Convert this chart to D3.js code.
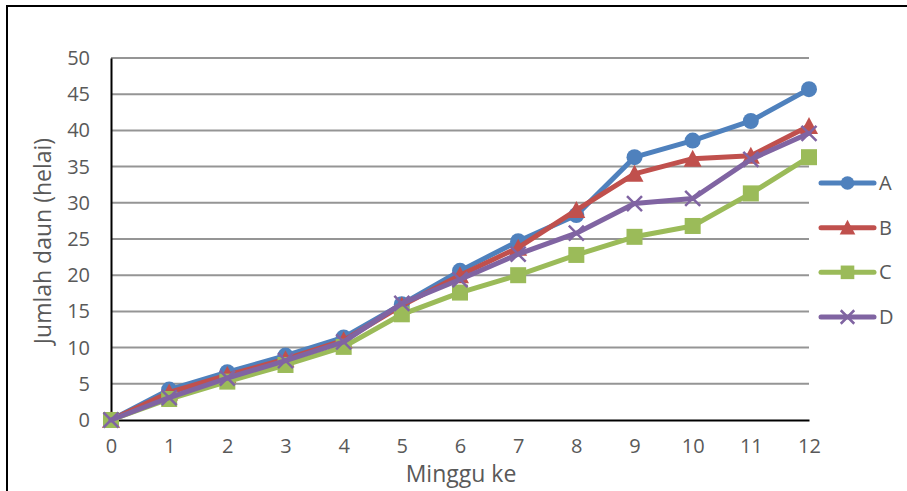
<!DOCTYPE html>
<html>
<head>
<meta charset="utf-8">
<script src="https://cdn.jsdelivr.net/npm/d3@7"></script>
<style>
  html, body { margin: 0; padding: 0; background: #fff; }
  svg { display: block; }
  text { font-family: "Open Sans", "Noto Sans", sans-serif; fill: #595959; }
</style>
</head>
<body>
<svg id="chart" width="907" height="491"></svg>
<script>
// Weekly leaf counts for four treatments
const weeks = [0, 1, 2, 3, 4, 5, 6, 7, 8, 9, 10, 11, 12];
const seriesA = [0, 4.2, 6.6, 8.9, 11.4, 16.0, 20.6, 24.7, 28.3, 36.3, 38.6, 41.3, 45.7];
const seriesB = [0, 3.8, 6.2, 8.4, 11.0, 15.8, 20.0, 23.8, 29.0, 34.0, 36.1, 36.5, 40.6];
const seriesC = [0, 2.9, 5.3, 7.6, 10.1, 14.6, 17.6, 20.0, 22.8, 25.3, 26.8, 31.3, 36.3];
const seriesD = [0, 3.1, 5.8, 8.2, 10.8, 16.1, 19.4, 22.9, 25.8, 29.9, 30.6, 36.0, 39.6];
const yTicks = [0, 5, 10, 15, 20, 25, 30, 35, 40, 45, 50];
const seriesNames = ["A", "B", "C", "D"];
const colors = ["#4F81BD", "#C0504D", "#9BBB59", "#8064A2"];
const markers = ["circle", "triangle", "square", "cross"];
const xTitle = "Minggu ke";
const yTitle = "Jumlah daun (helai)";

const series = [seriesA, seriesB, seriesC, seriesD].map((vals, i) => ({
  name: seriesNames[i], color: colors[i], marker: markers[i],
  points: vals.map((v, j) => ({ x: weeks[j], y: v }))
}));

const svg = d3.select("#chart");

// outer frame
svg.append("rect")
  .attr("x", 7).attr("y", 6).attr("width", 920).attr("height", 500)
  .attr("fill", "none").attr("stroke", "#000").attr("stroke-width", 2);

const x = d3.scaleLinear().domain([0, 12]).range([111, 809]);
const y = d3.scaleLinear().domain([0, 50]).range([420, 58]);

// horizontal gridlines
svg.append("g")
  .selectAll("line")
  .data(yTicks.filter(t => t > 0))
  .join("line")
  .attr("x1", x(0)).attr("x2", x(12))
  .attr("y1", d => y(d)).attr("y2", d => y(d))
  .attr("stroke", "#959595").attr("stroke-width", 2);

// y axis
const yAxis = svg.append("g")
  .attr("transform", `translate(${x(0)},0)`)
  .call(d3.axisLeft(y).tickValues(yTicks).tickSize(0).tickPadding(21));
yAxis.select(".domain").attr("stroke", "#000").attr("stroke-width", 2);
yAxis.selectAll("text").attr("font-size", 20).attr("fill", "#595959")
  .style("font-family", "'Open Sans', sans-serif");

// x axis
const xAxis = svg.append("g")
  .attr("transform", `translate(0,${y(0)})`)
  .call(d3.axisBottom(x).tickValues(weeks).tickSize(0).tickPadding(19).tickFormat(d3.format("d")));
xAxis.select(".domain").attr("stroke", "#000").attr("stroke-width", 2);
xAxis.selectAll("text").attr("font-size", 20).attr("fill", "#595959")
  .style("font-family", "'Open Sans', sans-serif");

// axis titles
svg.append("text")
  .attr("x", 461).attr("y", 482)
  .attr("text-anchor", "middle").attr("font-size", 23)
  .text(xTitle);
svg.append("text")
  .attr("transform", "translate(51,241) rotate(-90)")
  .attr("text-anchor", "middle").attr("font-size", 23)
  .text(yTitle);

// marker drawing
function drawMarker(g, type, color, cx, cy, scale) {
  const s = scale || 1;
  if (type === "circle") {
    g.append("circle").attr("cx", cx).attr("cy", cy).attr("r", 8 * s).attr("fill", color);
  } else if (type === "triangle") {
    const h = 8 * s;
    g.append("path")
      .attr("d", `M${cx},${cy - h - 1}L${cx + h + 1},${cy + h}L${cx - h - 1},${cy + h}Z`)
      .attr("fill", color);
  } else if (type === "square") {
    const h = 8 * s;
    g.append("rect").attr("x", cx - h).attr("y", cy - h)
      .attr("width", 2 * h).attr("height", 2 * h).attr("fill", color);
  } else {
    const h = 7.5 * s;
    g.append("path")
      .attr("d", `M${cx - h},${cy - h}L${cx + h},${cy + h}M${cx - h},${cy + h}L${cx + h},${cy - h}`)
      .attr("stroke", color).attr("stroke-width", 2.5).attr("fill", "none");
  }
}

const line = d3.line().x(d => x(d.x)).y(d => y(d.y));

series.forEach(s => {
  const g = svg.append("g");
  g.append("path")
    .datum(s.points)
    .attr("d", line)
    .attr("fill", "none")
    .attr("stroke", s.color)
    .attr("stroke-width", 5)
    .attr("stroke-linejoin", "round")
    .attr("stroke-linecap", "round");
  s.points.forEach(p => drawMarker(g, s.marker, s.color, x(p.x), y(p.y)));
});

// legend
const legendY = d3.scalePoint().domain(seriesNames).range([183, 317]);
series.forEach(s => {
  const g = svg.append("g");
  const ly = legendY(s.name);
  g.append("line")
    .attr("x1", 821).attr("x2", 874).attr("y1", ly).attr("y2", ly)
    .attr("stroke", s.color).attr("stroke-width", 5).attr("stroke-linecap", "round");
  drawMarker(g, s.marker, s.color, 847.5, ly, s.marker === "cross" ? 0.9 : 0.85);
  g.append("text")
    .attr("x", 879).attr("y", ly).attr("dy", "0.35em")
    .attr("font-size", 20)
    .text(s.name);
});
</script>
</body>
</html>
